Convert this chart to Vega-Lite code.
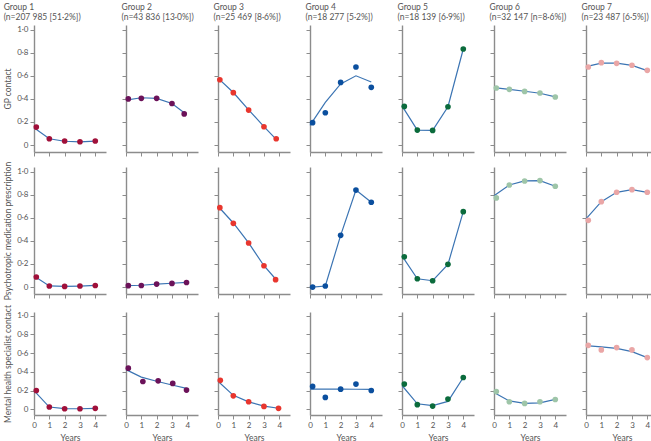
{
"$schema":"https://vega.github.io/schema/vega-lite/v6.json",
"padding":{"left":3,"top":2,"right":0,"bottom":0},
"background":"white",
"datasets":{"d":[
{"m":"a","g":1,"k":"o","x":0.15,"y":0.156},{"m":"a","g":1,"k":"o","x":1,"y":0.055},{"m":"a","g":1,"k":"o","x":2,"y":0.035},{"m":"a","g":1,"k":"o","x":3,"y":0.029},{"m":"a","g":1,"k":"o","x":4,"y":0.035},
{"m":"a","g":1,"k":"f","x":0,"y":0.15},{"m":"a","g":1,"k":"f","x":1,"y":0.055},{"m":"a","g":1,"k":"f","x":2,"y":0.033},{"m":"a","g":1,"k":"f","x":3,"y":0.027},{"m":"a","g":1,"k":"f","x":4,"y":0.034},
{"m":"a","g":2,"k":"o","x":0.15,"y":0.40},{"m":"a","g":2,"k":"o","x":1,"y":0.405},{"m":"a","g":2,"k":"o","x":2,"y":0.405},{"m":"a","g":2,"k":"o","x":3,"y":0.36},{"m":"a","g":2,"k":"o","x":3.8,"y":0.27},
{"m":"a","g":2,"k":"f","x":0,"y":0.39},{"m":"a","g":2,"k":"f","x":1,"y":0.41},{"m":"a","g":2,"k":"f","x":2,"y":0.405},{"m":"a","g":2,"k":"f","x":3,"y":0.36},{"m":"a","g":2,"k":"f","x":3.8,"y":0.28},
{"m":"a","g":3,"k":"o","x":0.12,"y":0.566},{"m":"a","g":3,"k":"o","x":1,"y":0.454},{"m":"a","g":3,"k":"o","x":2,"y":0.303},{"m":"a","g":3,"k":"o","x":3,"y":0.159},{"m":"a","g":3,"k":"o","x":3.8,"y":0.055},
{"m":"a","g":3,"k":"f","x":0,"y":0.58},{"m":"a","g":3,"k":"f","x":1,"y":0.455},{"m":"a","g":3,"k":"f","x":2,"y":0.305},{"m":"a","g":3,"k":"f","x":3,"y":0.16},{"m":"a","g":3,"k":"f","x":3.8,"y":0.05},
{"m":"a","g":4,"k":"o","x":0.17,"y":0.194},{"m":"a","g":4,"k":"o","x":1,"y":0.28},{"m":"a","g":4,"k":"o","x":2,"y":0.543},{"m":"a","g":4,"k":"o","x":3,"y":0.676},{"m":"a","g":4,"k":"o","x":4,"y":0.50},
{"m":"a","g":4,"k":"f","x":0,"y":0.17},{"m":"a","g":4,"k":"f","x":1,"y":0.37},{"m":"a","g":4,"k":"f","x":2,"y":0.53},{"m":"a","g":4,"k":"f","x":3,"y":0.60},{"m":"a","g":4,"k":"f","x":4,"y":0.546},
{"m":"a","g":5,"k":"o","x":0.15,"y":0.335},{"m":"a","g":5,"k":"o","x":1,"y":0.13},{"m":"a","g":5,"k":"o","x":2,"y":0.127},{"m":"a","g":5,"k":"o","x":3,"y":0.332},{"m":"a","g":5,"k":"o","x":4,"y":0.832},
{"m":"a","g":5,"k":"f","x":0,"y":0.34},{"m":"a","g":5,"k":"f","x":1,"y":0.13},{"m":"a","g":5,"k":"f","x":2,"y":0.127},{"m":"a","g":5,"k":"f","x":3,"y":0.332},{"m":"a","g":5,"k":"f","x":4,"y":0.832},
{"m":"a","g":6,"k":"o","x":0.15,"y":0.494},{"m":"a","g":6,"k":"o","x":1,"y":0.483},{"m":"a","g":6,"k":"o","x":2,"y":0.465},{"m":"a","g":6,"k":"o","x":3,"y":0.451},{"m":"a","g":6,"k":"o","x":4,"y":0.416},
{"m":"a","g":6,"k":"f","x":0,"y":0.497},{"m":"a","g":6,"k":"f","x":1,"y":0.483},{"m":"a","g":6,"k":"f","x":2,"y":0.466},{"m":"a","g":6,"k":"f","x":3,"y":0.449},{"m":"a","g":6,"k":"f","x":4,"y":0.418},
{"m":"a","g":7,"k":"o","x":0.15,"y":0.676},{"m":"a","g":7,"k":"o","x":1,"y":0.714},{"m":"a","g":7,"k":"o","x":2,"y":0.708},{"m":"a","g":7,"k":"o","x":3,"y":0.691},{"m":"a","g":7,"k":"o","x":4,"y":0.647},
{"m":"a","g":7,"k":"f","x":0,"y":0.68},{"m":"a","g":7,"k":"f","x":1,"y":0.71},{"m":"a","g":7,"k":"f","x":2,"y":0.71},{"m":"a","g":7,"k":"f","x":3,"y":0.69},{"m":"a","g":7,"k":"f","x":4,"y":0.645},
{"m":"b","g":1,"k":"o","x":0.15,"y":0.087},{"m":"b","g":1,"k":"o","x":1,"y":0.009},{"m":"b","g":1,"k":"o","x":2,"y":0.006},{"m":"b","g":1,"k":"o","x":3,"y":0.009},{"m":"b","g":1,"k":"o","x":4,"y":0.014},
{"m":"b","g":1,"k":"f","x":0,"y":0.095},{"m":"b","g":1,"k":"f","x":1,"y":0.01},{"m":"b","g":1,"k":"f","x":2,"y":0.006},{"m":"b","g":1,"k":"f","x":3,"y":0.009},{"m":"b","g":1,"k":"f","x":4,"y":0.014},
{"m":"b","g":2,"k":"o","x":0.15,"y":0.012},{"m":"b","g":2,"k":"o","x":1,"y":0.014},{"m":"b","g":2,"k":"o","x":2,"y":0.026},{"m":"b","g":2,"k":"o","x":3,"y":0.032},{"m":"b","g":2,"k":"o","x":3.95,"y":0.04},
{"m":"b","g":2,"k":"f","x":0,"y":0.012},{"m":"b","g":2,"k":"f","x":1,"y":0.016},{"m":"b","g":2,"k":"f","x":2,"y":0.025},{"m":"b","g":2,"k":"f","x":3,"y":0.033},{"m":"b","g":2,"k":"f","x":3.95,"y":0.041},
{"m":"b","g":3,"k":"o","x":0.12,"y":0.688},{"m":"b","g":3,"k":"o","x":1,"y":0.552},{"m":"b","g":3,"k":"o","x":2,"y":0.382},{"m":"b","g":3,"k":"o","x":3,"y":0.185},{"m":"b","g":3,"k":"o","x":3.76,"y":0.064},
{"m":"b","g":3,"k":"f","x":0,"y":0.70},{"m":"b","g":3,"k":"f","x":1,"y":0.555},{"m":"b","g":3,"k":"f","x":2,"y":0.382},{"m":"b","g":3,"k":"f","x":3,"y":0.185},{"m":"b","g":3,"k":"f","x":3.76,"y":0.07},
{"m":"b","g":4,"k":"o","x":0.17,"y":0.0},{"m":"b","g":4,"k":"o","x":1,"y":0.009},{"m":"b","g":4,"k":"o","x":2,"y":0.448},{"m":"b","g":4,"k":"o","x":3,"y":0.84},{"m":"b","g":4,"k":"o","x":4,"y":0.735},
{"m":"b","g":4,"k":"f","x":0.17,"y":0.0},{"m":"b","g":4,"k":"f","x":1,"y":0.009},{"m":"b","g":4,"k":"f","x":2,"y":0.448},{"m":"b","g":4,"k":"f","x":3,"y":0.84},{"m":"b","g":4,"k":"f","x":4,"y":0.735},
{"m":"b","g":5,"k":"o","x":0.15,"y":0.263},{"m":"b","g":5,"k":"o","x":1,"y":0.072},{"m":"b","g":5,"k":"o","x":2,"y":0.055},{"m":"b","g":5,"k":"o","x":3,"y":0.197},{"m":"b","g":5,"k":"o","x":4,"y":0.653},
{"m":"b","g":5,"k":"f","x":0,"y":0.27},{"m":"b","g":5,"k":"f","x":1,"y":0.072},{"m":"b","g":5,"k":"f","x":2,"y":0.055},{"m":"b","g":5,"k":"f","x":3,"y":0.197},{"m":"b","g":5,"k":"f","x":4,"y":0.653},
{"m":"b","g":6,"k":"o","x":0.15,"y":0.772},{"m":"b","g":6,"k":"o","x":1,"y":0.884},{"m":"b","g":6,"k":"o","x":2,"y":0.919},{"m":"b","g":6,"k":"o","x":3,"y":0.922},{"m":"b","g":6,"k":"o","x":4,"y":0.873},
{"m":"b","g":6,"k":"f","x":0,"y":0.79},{"m":"b","g":6,"k":"f","x":1,"y":0.884},{"m":"b","g":6,"k":"f","x":2,"y":0.919},{"m":"b","g":6,"k":"f","x":3,"y":0.922},{"m":"b","g":6,"k":"f","x":4,"y":0.873},
{"m":"b","g":7,"k":"o","x":0.15,"y":0.578},{"m":"b","g":7,"k":"o","x":1,"y":0.74},{"m":"b","g":7,"k":"o","x":2,"y":0.821},{"m":"b","g":7,"k":"o","x":3,"y":0.844},{"m":"b","g":7,"k":"o","x":4,"y":0.821},
{"m":"b","g":7,"k":"f","x":0,"y":0.59},{"m":"b","g":7,"k":"f","x":1,"y":0.74},{"m":"b","g":7,"k":"f","x":2,"y":0.821},{"m":"b","g":7,"k":"f","x":3,"y":0.844},{"m":"b","g":7,"k":"f","x":4,"y":0.821},
{"m":"c","g":1,"k":"o","x":0.15,"y":0.202},{"m":"c","g":1,"k":"o","x":1,"y":0.025},{"m":"c","g":1,"k":"o","x":2,"y":0.007},{"m":"c","g":1,"k":"o","x":3,"y":0.007},{"m":"c","g":1,"k":"o","x":4,"y":0.011},
{"m":"c","g":1,"k":"f","x":0,"y":0.20},{"m":"c","g":1,"k":"f","x":1,"y":0.025},{"m":"c","g":1,"k":"f","x":2,"y":0.008},{"m":"c","g":1,"k":"f","x":3,"y":0.007},{"m":"c","g":1,"k":"f","x":4,"y":0.011},
{"m":"c","g":2,"k":"o","x":0.15,"y":0.44},{"m":"c","g":2,"k":"o","x":1.1,"y":0.298},{"m":"c","g":2,"k":"o","x":2.1,"y":0.305},{"m":"c","g":2,"k":"o","x":3.05,"y":0.277},{"m":"c","g":2,"k":"o","x":3.95,"y":0.206},
{"m":"c","g":2,"k":"f","x":0,"y":0.425},{"m":"c","g":2,"k":"f","x":1,"y":0.345},{"m":"c","g":2,"k":"f","x":2,"y":0.30},{"m":"c","g":2,"k":"f","x":3,"y":0.26},{"m":"c","g":2,"k":"f","x":3.95,"y":0.225},
{"m":"c","g":3,"k":"o","x":0.15,"y":0.31},{"m":"c","g":3,"k":"o","x":1,"y":0.145},{"m":"c","g":3,"k":"o","x":2,"y":0.082},{"m":"c","g":3,"k":"o","x":3,"y":0.032},{"m":"c","g":3,"k":"o","x":3.95,"y":0.011},
{"m":"c","g":3,"k":"f","x":0,"y":0.30},{"m":"c","g":3,"k":"f","x":1,"y":0.15},{"m":"c","g":3,"k":"f","x":2,"y":0.08},{"m":"c","g":3,"k":"f","x":3,"y":0.035},{"m":"c","g":3,"k":"f","x":3.95,"y":0.012},
{"m":"c","g":4,"k":"o","x":0.17,"y":0.245},{"m":"c","g":4,"k":"o","x":1,"y":0.128},{"m":"c","g":4,"k":"o","x":2,"y":0.216},{"m":"c","g":4,"k":"o","x":3,"y":0.27},{"m":"c","g":4,"k":"o","x":4,"y":0.202},
{"m":"c","g":4,"k":"f","x":0,"y":0.216},{"m":"c","g":4,"k":"f","x":1,"y":0.216},{"m":"c","g":4,"k":"f","x":2,"y":0.216},{"m":"c","g":4,"k":"f","x":3,"y":0.215},{"m":"c","g":4,"k":"f","x":4,"y":0.214},
{"m":"c","g":5,"k":"o","x":0.15,"y":0.27},{"m":"c","g":5,"k":"o","x":1,"y":0.05},{"m":"c","g":5,"k":"o","x":2,"y":0.035},{"m":"c","g":5,"k":"o","x":3,"y":0.11},{"m":"c","g":5,"k":"o","x":4,"y":0.34},
{"m":"c","g":5,"k":"f","x":0,"y":0.255},{"m":"c","g":5,"k":"f","x":1,"y":0.06},{"m":"c","g":5,"k":"f","x":2,"y":0.04},{"m":"c","g":5,"k":"f","x":3,"y":0.085},{"m":"c","g":5,"k":"f","x":4,"y":0.34},
{"m":"c","g":6,"k":"o","x":0.15,"y":0.19},{"m":"c","g":6,"k":"o","x":1,"y":0.082},{"m":"c","g":6,"k":"o","x":2,"y":0.064},{"m":"c","g":6,"k":"o","x":3,"y":0.082},{"m":"c","g":6,"k":"o","x":4,"y":0.106},
{"m":"c","g":6,"k":"f","x":0,"y":0.18},{"m":"c","g":6,"k":"f","x":1,"y":0.09},{"m":"c","g":6,"k":"f","x":2,"y":0.064},{"m":"c","g":6,"k":"f","x":3,"y":0.07},{"m":"c","g":6,"k":"f","x":4,"y":0.106},
{"m":"c","g":7,"k":"o","x":0.15,"y":0.684},{"m":"c","g":7,"k":"o","x":1,"y":0.635},{"m":"c","g":7,"k":"o","x":2,"y":0.66},{"m":"c","g":7,"k":"o","x":3,"y":0.635},{"m":"c","g":7,"k":"o","x":4,"y":0.553},
{"m":"c","g":7,"k":"f","x":0,"y":0.68},{"m":"c","g":7,"k":"f","x":1,"y":0.667},{"m":"c","g":7,"k":"f","x":2,"y":0.652},{"m":"c","g":7,"k":"f","x":3,"y":0.617},{"m":"c","g":7,"k":"f","x":4,"y":0.553}
]},
"data":{"name":"d"},
"spacing":4,
"vconcat":[
{"bounds":"flush","spacing":20,"hconcat":[
{"width":72,"height":127,"title":{"text":["Group 1","(n=207 985 [51·2%])"]},"transform":[{"filter":"datum.m=='a'&&datum.g==1"}],
"encoding":{"x":{"field":"x","type":"quantitative","scale":{"domain":[0,4.7]},"axis":{"values":[0,1,2,3,4],"labels":false,"title":null}},"y":{"field":"y","type":"quantitative","scale":{"domain":[-0.06,1.04],"nice":false,"zero":false},"axis":{"values":[0,0.2,0.4,0.6,0.8,1],"labelOverlap":false,"labelExpr":"datum.value==0?'0':replace(format(datum.value,'.1f'),'.','·')","title":"GP contact"}}},
"layer":[{"transform":[{"filter":"datum.k=='f'"}],"mark":{"type":"line","color":"#3b74b3","strokeWidth":1.2},"encoding":{}},{"transform":[{"filter":"datum.k=='o'"}],"mark":{"type":"circle","size":32,"opacity":1,"color":"#a0103a"}}]},
{"width":72,"height":127,"title":{"text":["Group 2","(n=43 836 [13·0%])"]},"transform":[{"filter":"datum.m=='a'&&datum.g==2"}],
"encoding":{"x":{"field":"x","type":"quantitative","scale":{"domain":[0,4.7]},"axis":{"values":[0,1,2,3,4],"labels":false,"title":null}},"y":{"field":"y","type":"quantitative","scale":{"domain":[-0.06,1.04],"nice":false,"zero":false},"axis":{"values":[0,0.2,0.4,0.6,0.8,1],"labels":false,"title":null}}},
"layer":[{"transform":[{"filter":"datum.k=='f'"}],"mark":{"type":"line","color":"#3b74b3","strokeWidth":1.2},"encoding":{}},{"transform":[{"filter":"datum.k=='o'"}],"mark":{"type":"circle","size":32,"opacity":1,"color":"#6b1259"}}]},
{"width":72,"height":127,"title":{"text":["Group 3","(n=25 469 [8·6%])"]},"transform":[{"filter":"datum.m=='a'&&datum.g==3"}],
"encoding":{"x":{"field":"x","type":"quantitative","scale":{"domain":[0,4.7]},"axis":{"values":[0,1,2,3,4],"labels":false,"title":null}},"y":{"field":"y","type":"quantitative","scale":{"domain":[-0.06,1.04],"nice":false,"zero":false},"axis":{"values":[0,0.2,0.4,0.6,0.8,1],"labels":false,"title":null}}},
"layer":[{"transform":[{"filter":"datum.k=='f'"}],"mark":{"type":"line","color":"#3b74b3","strokeWidth":1.2},"encoding":{}},{"transform":[{"filter":"datum.k=='o'"}],"mark":{"type":"circle","size":32,"opacity":1,"color":"#e8362e"}}]},
{"width":72,"height":127,"title":{"text":["Group 4","(n=18 277 [5·2%])"]},"transform":[{"filter":"datum.m=='a'&&datum.g==4"}],
"encoding":{"x":{"field":"x","type":"quantitative","scale":{"domain":[0,4.7]},"axis":{"values":[0,1,2,3,4],"labels":false,"title":null}},"y":{"field":"y","type":"quantitative","scale":{"domain":[-0.06,1.04],"nice":false,"zero":false},"axis":{"values":[0,0.2,0.4,0.6,0.8,1],"labels":false,"title":null}}},
"layer":[{"transform":[{"filter":"datum.k=='f'"}],"mark":{"type":"line","color":"#3b74b3","strokeWidth":1.2},"encoding":{}},{"transform":[{"filter":"datum.k=='o'"}],"mark":{"type":"circle","size":32,"opacity":1,"color":"#0b4f9e"}}]},
{"width":72,"height":127,"title":{"text":["Group 5","(n=18 139 [6·9%])"]},"transform":[{"filter":"datum.m=='a'&&datum.g==5"}],
"encoding":{"x":{"field":"x","type":"quantitative","scale":{"domain":[0,4.7]},"axis":{"values":[0,1,2,3,4],"labels":false,"title":null}},"y":{"field":"y","type":"quantitative","scale":{"domain":[-0.06,1.04],"nice":false,"zero":false},"axis":{"values":[0,0.2,0.4,0.6,0.8,1],"labels":false,"title":null}}},
"layer":[{"transform":[{"filter":"datum.k=='f'"}],"mark":{"type":"line","color":"#3b74b3","strokeWidth":1.2},"encoding":{}},{"transform":[{"filter":"datum.k=='o'"}],"mark":{"type":"circle","size":32,"opacity":1,"color":"#0b6b3c"}}]},
{"width":72,"height":127,"title":{"text":["Group 6","(n=32 147 [n=8·6%])"]},"transform":[{"filter":"datum.m=='a'&&datum.g==6"}],
"encoding":{"x":{"field":"x","type":"quantitative","scale":{"domain":[0,4.7]},"axis":{"values":[0,1,2,3,4],"labels":false,"title":null}},"y":{"field":"y","type":"quantitative","scale":{"domain":[-0.06,1.04],"nice":false,"zero":false},"axis":{"values":[0,0.2,0.4,0.6,0.8,1],"labels":false,"title":null}}},
"layer":[{"transform":[{"filter":"datum.k=='f'"}],"mark":{"type":"line","color":"#3b74b3","strokeWidth":1.2},"encoding":{}},{"transform":[{"filter":"datum.k=='o'"}],"mark":{"type":"circle","size":32,"opacity":1,"color":"#9ec5a8"}}]},
{"width":72,"height":127,"title":{"text":["Group 7","(n=23 487 [6·5%])"]},"transform":[{"filter":"datum.m=='a'&&datum.g==7"}],
"encoding":{"x":{"field":"x","type":"quantitative","scale":{"domain":[0,4.7]},"axis":{"values":[0,1,2,3,4],"labels":false,"title":null}},"y":{"field":"y","type":"quantitative","scale":{"domain":[-0.06,1.04],"nice":false,"zero":false},"axis":{"values":[0,0.2,0.4,0.6,0.8,1],"labels":false,"title":null}}},
"layer":[{"transform":[{"filter":"datum.k=='f'"}],"mark":{"type":"line","color":"#3b74b3","strokeWidth":1.2},"encoding":{}},{"transform":[{"filter":"datum.k=='o'"}],"mark":{"type":"circle","size":32,"opacity":1,"color":"#eaa6a6"}}]}
]},
{"bounds":"flush","spacing":20,"hconcat":[
{"width":72,"height":127,"transform":[{"filter":"datum.m=='b'&&datum.g==1"}],
"encoding":{"x":{"field":"x","type":"quantitative","scale":{"domain":[0,4.7]},"axis":{"values":[0,1,2,3,4],"labels":false,"title":null}},"y":{"field":"y","type":"quantitative","scale":{"domain":[-0.06,1.04],"nice":false,"zero":false},"axis":{"values":[0,0.2,0.4,0.6,0.8,1],"labelOverlap":false,"labelExpr":"datum.value==0?'0':replace(format(datum.value,'.1f'),'.','·')","title":"Psychotropic medication prescription"}}},
"layer":[{"transform":[{"filter":"datum.k=='f'"}],"mark":{"type":"line","color":"#3b74b3","strokeWidth":1.2},"encoding":{}},{"transform":[{"filter":"datum.k=='o'"}],"mark":{"type":"circle","size":32,"opacity":1,"color":"#a0103a"}}]},
{"width":72,"height":127,"transform":[{"filter":"datum.m=='b'&&datum.g==2"}],
"encoding":{"x":{"field":"x","type":"quantitative","scale":{"domain":[0,4.7]},"axis":{"values":[0,1,2,3,4],"labels":false,"title":null}},"y":{"field":"y","type":"quantitative","scale":{"domain":[-0.06,1.04],"nice":false,"zero":false},"axis":{"values":[0,0.2,0.4,0.6,0.8,1],"labels":false,"title":null}}},
"layer":[{"transform":[{"filter":"datum.k=='f'"}],"mark":{"type":"line","color":"#3b74b3","strokeWidth":1.2},"encoding":{}},{"transform":[{"filter":"datum.k=='o'"}],"mark":{"type":"circle","size":32,"opacity":1,"color":"#6b1259"}}]},
{"width":72,"height":127,"transform":[{"filter":"datum.m=='b'&&datum.g==3"}],
"encoding":{"x":{"field":"x","type":"quantitative","scale":{"domain":[0,4.7]},"axis":{"values":[0,1,2,3,4],"labels":false,"title":null}},"y":{"field":"y","type":"quantitative","scale":{"domain":[-0.06,1.04],"nice":false,"zero":false},"axis":{"values":[0,0.2,0.4,0.6,0.8,1],"labels":false,"title":null}}},
"layer":[{"transform":[{"filter":"datum.k=='f'"}],"mark":{"type":"line","color":"#3b74b3","strokeWidth":1.2},"encoding":{}},{"transform":[{"filter":"datum.k=='o'"}],"mark":{"type":"circle","size":32,"opacity":1,"color":"#e8362e"}}]},
{"width":72,"height":127,"transform":[{"filter":"datum.m=='b'&&datum.g==4"}],
"encoding":{"x":{"field":"x","type":"quantitative","scale":{"domain":[0,4.7]},"axis":{"values":[0,1,2,3,4],"labels":false,"title":null}},"y":{"field":"y","type":"quantitative","scale":{"domain":[-0.06,1.04],"nice":false,"zero":false},"axis":{"values":[0,0.2,0.4,0.6,0.8,1],"labels":false,"title":null}}},
"layer":[{"transform":[{"filter":"datum.k=='f'"}],"mark":{"type":"line","color":"#3b74b3","strokeWidth":1.2},"encoding":{}},{"transform":[{"filter":"datum.k=='o'"}],"mark":{"type":"circle","size":32,"opacity":1,"color":"#0b4f9e"}}]},
{"width":72,"height":127,"transform":[{"filter":"datum.m=='b'&&datum.g==5"}],
"encoding":{"x":{"field":"x","type":"quantitative","scale":{"domain":[0,4.7]},"axis":{"values":[0,1,2,3,4],"labels":false,"title":null}},"y":{"field":"y","type":"quantitative","scale":{"domain":[-0.06,1.04],"nice":false,"zero":false},"axis":{"values":[0,0.2,0.4,0.6,0.8,1],"labels":false,"title":null}}},
"layer":[{"transform":[{"filter":"datum.k=='f'"}],"mark":{"type":"line","color":"#3b74b3","strokeWidth":1.2},"encoding":{}},{"transform":[{"filter":"datum.k=='o'"}],"mark":{"type":"circle","size":32,"opacity":1,"color":"#0b6b3c"}}]},
{"width":72,"height":127,"transform":[{"filter":"datum.m=='b'&&datum.g==6"}],
"encoding":{"x":{"field":"x","type":"quantitative","scale":{"domain":[0,4.7]},"axis":{"values":[0,1,2,3,4],"labels":false,"title":null}},"y":{"field":"y","type":"quantitative","scale":{"domain":[-0.06,1.04],"nice":false,"zero":false},"axis":{"values":[0,0.2,0.4,0.6,0.8,1],"labels":false,"title":null}}},
"layer":[{"transform":[{"filter":"datum.k=='f'"}],"mark":{"type":"line","color":"#3b74b3","strokeWidth":1.2},"encoding":{}},{"transform":[{"filter":"datum.k=='o'"}],"mark":{"type":"circle","size":32,"opacity":1,"color":"#9ec5a8"}}]},
{"width":72,"height":127,"transform":[{"filter":"datum.m=='b'&&datum.g==7"}],
"encoding":{"x":{"field":"x","type":"quantitative","scale":{"domain":[0,4.7]},"axis":{"values":[0,1,2,3,4],"labels":false,"title":null}},"y":{"field":"y","type":"quantitative","scale":{"domain":[-0.06,1.04],"nice":false,"zero":false},"axis":{"values":[0,0.2,0.4,0.6,0.8,1],"labels":false,"title":null}}},
"layer":[{"transform":[{"filter":"datum.k=='f'"}],"mark":{"type":"line","color":"#3b74b3","strokeWidth":1.2},"encoding":{}},{"transform":[{"filter":"datum.k=='o'"}],"mark":{"type":"circle","size":32,"opacity":1,"color":"#eaa6a6"}}]}
]},
{"bounds":"flush","spacing":20,"hconcat":[
{"width":72,"height":103,"transform":[{"filter":"datum.m=='c'&&datum.g==1"}],
"encoding":{"x":{"field":"x","type":"quantitative","scale":{"domain":[0,4.7]},"axis":{"values":[0,1,2,3,4],"labelOverlap":false,"format":"d","title":"Years"}},"y":{"field":"y","type":"quantitative","scale":{"domain":[-0.06,1.04],"nice":false,"zero":false},"axis":{"values":[0,0.2,0.4,0.6,0.8,1],"labelOverlap":false,"labelExpr":"datum.value==0?'0':replace(format(datum.value,'.1f'),'.','·')","title":"Mental health specialist contact"}}},
"layer":[{"transform":[{"filter":"datum.k=='f'"}],"mark":{"type":"line","color":"#3b74b3","strokeWidth":1.2},"encoding":{}},{"transform":[{"filter":"datum.k=='o'"}],"mark":{"type":"circle","size":32,"opacity":1,"color":"#a0103a"}}]},
{"width":72,"height":103,"transform":[{"filter":"datum.m=='c'&&datum.g==2"}],
"encoding":{"x":{"field":"x","type":"quantitative","scale":{"domain":[0,4.7]},"axis":{"values":[0,1,2,3,4],"labelOverlap":false,"format":"d","title":"Years"}},"y":{"field":"y","type":"quantitative","scale":{"domain":[-0.06,1.04],"nice":false,"zero":false},"axis":{"values":[0,0.2,0.4,0.6,0.8,1],"labels":false,"title":null}}},
"layer":[{"transform":[{"filter":"datum.k=='f'"}],"mark":{"type":"line","color":"#3b74b3","strokeWidth":1.2},"encoding":{}},{"transform":[{"filter":"datum.k=='o'"}],"mark":{"type":"circle","size":32,"opacity":1,"color":"#6b1259"}}]},
{"width":72,"height":103,"transform":[{"filter":"datum.m=='c'&&datum.g==3"}],
"encoding":{"x":{"field":"x","type":"quantitative","scale":{"domain":[0,4.7]},"axis":{"values":[0,1,2,3,4],"labelOverlap":false,"format":"d","title":"Years"}},"y":{"field":"y","type":"quantitative","scale":{"domain":[-0.06,1.04],"nice":false,"zero":false},"axis":{"values":[0,0.2,0.4,0.6,0.8,1],"labels":false,"title":null}}},
"layer":[{"transform":[{"filter":"datum.k=='f'"}],"mark":{"type":"line","color":"#3b74b3","strokeWidth":1.2},"encoding":{}},{"transform":[{"filter":"datum.k=='o'"}],"mark":{"type":"circle","size":32,"opacity":1,"color":"#e8362e"}}]},
{"width":72,"height":103,"transform":[{"filter":"datum.m=='c'&&datum.g==4"}],
"encoding":{"x":{"field":"x","type":"quantitative","scale":{"domain":[0,4.7]},"axis":{"values":[0,1,2,3,4],"labelOverlap":false,"format":"d","title":"Years"}},"y":{"field":"y","type":"quantitative","scale":{"domain":[-0.06,1.04],"nice":false,"zero":false},"axis":{"values":[0,0.2,0.4,0.6,0.8,1],"labels":false,"title":null}}},
"layer":[{"transform":[{"filter":"datum.k=='f'"}],"mark":{"type":"line","color":"#3b74b3","strokeWidth":1.2},"encoding":{}},{"transform":[{"filter":"datum.k=='o'"}],"mark":{"type":"circle","size":32,"opacity":1,"color":"#0b4f9e"}}]},
{"width":72,"height":103,"transform":[{"filter":"datum.m=='c'&&datum.g==5"}],
"encoding":{"x":{"field":"x","type":"quantitative","scale":{"domain":[0,4.7]},"axis":{"values":[0,1,2,3,4],"labelOverlap":false,"format":"d","title":"Years"}},"y":{"field":"y","type":"quantitative","scale":{"domain":[-0.06,1.04],"nice":false,"zero":false},"axis":{"values":[0,0.2,0.4,0.6,0.8,1],"labels":false,"title":null}}},
"layer":[{"transform":[{"filter":"datum.k=='f'"}],"mark":{"type":"line","color":"#3b74b3","strokeWidth":1.2},"encoding":{}},{"transform":[{"filter":"datum.k=='o'"}],"mark":{"type":"circle","size":32,"opacity":1,"color":"#0b6b3c"}}]},
{"width":72,"height":103,"transform":[{"filter":"datum.m=='c'&&datum.g==6"}],
"encoding":{"x":{"field":"x","type":"quantitative","scale":{"domain":[0,4.7]},"axis":{"values":[0,1,2,3,4],"labelOverlap":false,"format":"d","title":"Years"}},"y":{"field":"y","type":"quantitative","scale":{"domain":[-0.06,1.04],"nice":false,"zero":false},"axis":{"values":[0,0.2,0.4,0.6,0.8,1],"labels":false,"title":null}}},
"layer":[{"transform":[{"filter":"datum.k=='f'"}],"mark":{"type":"line","color":"#3b74b3","strokeWidth":1.2},"encoding":{}},{"transform":[{"filter":"datum.k=='o'"}],"mark":{"type":"circle","size":32,"opacity":1,"color":"#9ec5a8"}}]},
{"width":72,"height":103,"transform":[{"filter":"datum.m=='c'&&datum.g==7"}],
"encoding":{"x":{"field":"x","type":"quantitative","scale":{"domain":[0,4.7]},"axis":{"values":[0,1,2,3,4],"labelOverlap":false,"format":"d","title":"Years"}},"y":{"field":"y","type":"quantitative","scale":{"domain":[-0.06,1.04],"nice":false,"zero":false},"axis":{"values":[0,0.2,0.4,0.6,0.8,1],"labels":false,"title":null}}},
"layer":[{"transform":[{"filter":"datum.k=='f'"}],"mark":{"type":"line","color":"#3b74b3","strokeWidth":1.2},"encoding":{}},{"transform":[{"filter":"datum.k=='o'"}],"mark":{"type":"circle","size":32,"opacity":1,"color":"#eaa6a6"}}]}
]}
],
"config":{
"view":{"stroke":null},
"axis":{"grid":false,"domainColor":"#8c8c8c","domainWidth":1.4,"tickColor":"#8c8c8c","tickWidth":1,"tickSize":4,"labelFont":"Lato","labelFontSize":8,"labelColor":"#555","labelPadding":2,"labelOverlap":false,"labelFlush":false,"labelBound":false,"titleFont":"Lato","titleFontSize":8.5,"titleFontWeight":"normal","titleColor":"#555","titlePadding":4},
"title":{"anchor":"start","font":"Lato","fontSize":8.5,"fontWeight":"normal","color":"#555","offset":4,"lineHeight":10}
}
}
